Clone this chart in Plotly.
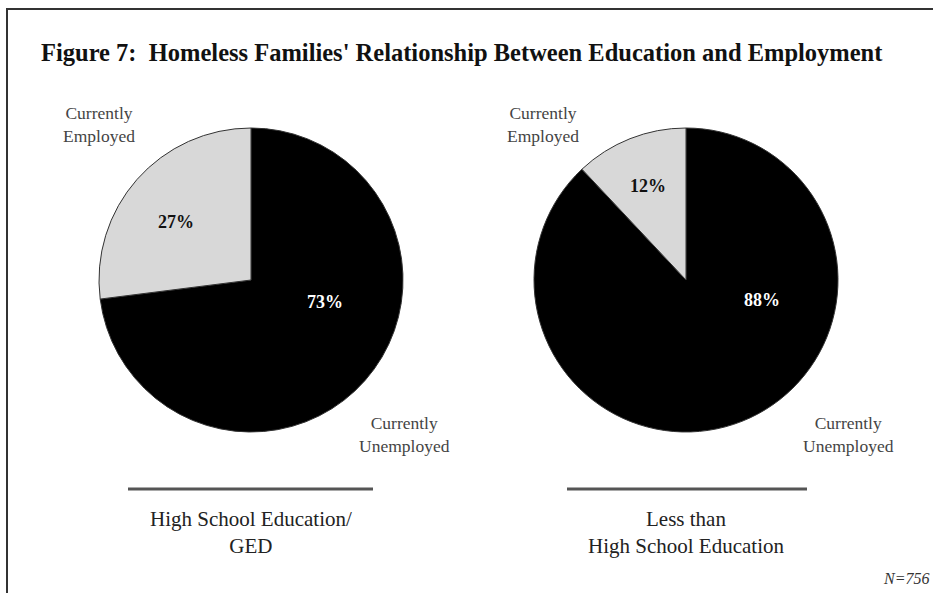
import plotly.graph_objects as go

# Employment status of homeless families by education level
status = ["Currently Employed", "Currently Unemployed"]
hs_ged_pct = [27, 73]
less_hs_pct = [12, 88]
group_labels = ["High School Education/<br>GED", "Less than<br>High School Education"]
sample_note = "N=756"

slice_colors = ["#d8d8d8", "#000000"]
text_colors = ["#111111", "#ffffff"]
serif = "Liberation Serif"

W, H = 933, 593


def px_domain(cx, cy, r):
    return dict(x=[(cx - r) / W, (cx + r) / W], y=[1 - (cy + r) / H, 1 - (cy - r) / H])


fig = go.Figure()
for vals, (cx, cy) in [(hs_ged_pct, (251, 280)), (less_hs_pct, (686, 280))]:
    # unemployed slice runs clockwise from 12 o'clock, employed closes the circle on the upper left
    fig.add_trace(go.Pie(
        labels=status[::-1],
        values=vals[::-1],
        sort=False,
        direction="clockwise",
        rotation=0,
        marker=dict(colors=slice_colors[::-1], line=dict(color="#333333", width=1)),
        textinfo="none",
        hoverinfo="label+percent",
        showlegend=False,
        domain=px_domain(cx, cy, 152),
    ))

annotations = [
    dict(text="<b>Figure 7:  Homeless Families' Relationship Between Education and Employment</b>",
         x=462 / W, y=1 - 53 / H, font=dict(family=serif, size=24.5, color="#111111")),
    dict(text="Currently<br>Employed", x=99 / W, y=1 - 124 / H, font=dict(family=serif, size=17.5, color="#444444")),
    dict(text="Currently<br>Unemployed", x=404 / W, y=1 - 434 / H, font=dict(family=serif, size=17.5, color="#444444")),
    dict(text="Currently<br>Employed", x=543 / W, y=1 - 124 / H, font=dict(family=serif, size=17.5, color="#444444")),
    dict(text="Currently<br>Unemployed", x=848 / W, y=1 - 434 / H, font=dict(family=serif, size=17.5, color="#444444")),
    dict(text=group_labels[0], x=251 / W, y=1 - 532 / H, font=dict(family=serif, size=21, color="#222222")),
    dict(text=group_labels[1], x=686 / W, y=1 - 532 / H, font=dict(family=serif, size=21, color="#222222")),
    dict(text="<i>" + sample_note + "</i>", x=906 / W, y=1 - 578 / H,
         font=dict(family=serif, size=16, color="#333333")),
]

# percentage labels inside the slices, text taken from the slice values
pct_spots = [
    (hs_ged_pct, [(176, 222), (325, 302)]),
    (less_hs_pct, [(648, 186), (762, 300)]),
]
for vals, spots in pct_spots:
    for v, (px, py), col in zip(vals, spots, text_colors):
        annotations.append(dict(text=f"<b>{v}%</b>", x=px / W, y=1 - py / H,
                                font=dict(family=serif, size=18, color=col)))

for a in annotations:
    a.update(xref="paper", yref="paper", showarrow=False, xanchor="center", yanchor="middle")

shapes = [
    # frame edges
    dict(type="line", x0=6 / W, x1=1, y0=1 - 9 / H, y1=1 - 9 / H, line=dict(color="#333333", width=2)),
    dict(type="line", x0=7 / W, x1=7 / W, y0=0, y1=1 - 9 / H, line=dict(color="#333333", width=2)),
    # rules above the group captions
    dict(type="line", x0=128 / W, x1=373 / W, y0=1 - 489 / H, y1=1 - 489 / H, line=dict(color="#555555", width=3)),
    dict(type="line", x0=567 / W, x1=807 / W, y0=1 - 489 / H, y1=1 - 489 / H, line=dict(color="#555555", width=3)),
]
for s in shapes:
    s.update(xref="paper", yref="paper")

fig.update_layout(
    width=W, height=H,
    margin=dict(l=0, r=0, t=0, b=0),
    paper_bgcolor="white",
    plot_bgcolor="white",
    annotations=annotations,
    shapes=shapes,
)

fig.write_html("out.html")
